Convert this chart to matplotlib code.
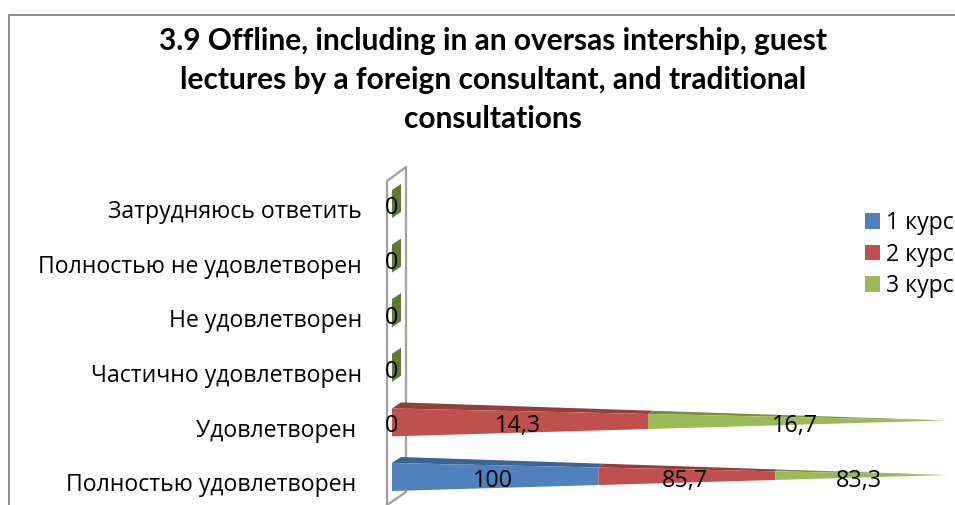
import matplotlib
matplotlib.use("Agg")
import matplotlib.pyplot as plt
from matplotlib.patches import Polygon, Patch
from matplotlib.lines import Line2D
from matplotlib.transforms import ScaledTranslation

plt.rcParams['font.family'] = ['Open Sans', 'DejaVu Sans']

title = ("3.9 Offline, including in an oversas intership, guest\n"
         "lectures by a foreign consultant, and traditional\n"
         "consultations")
categories = ["Полностью удовлетворен ", "Удовлетворен ", "Частично удовлетворен",
              "Не удовлетворен", "Полностью не удовлетворен", "Затрудняюсь ответить"]
series_names = ["1 курс", "2 курс", "3 курс"]
course1 = [100, 0, 0, 0, 0, 0]
course2 = [85.7, 14.3, 0, 0, 0, 0]
course3 = [83.3, 16.7, 0, 0, 0, 0]
face_colors = ["#4f81bd", "#c0504d", "#9bbb59"]
top_colors = ["#3c6496", "#943d3b", "#77913f"]
side_color = "#5f7a30"

W, H = 955, 505
fig = plt.figure(figsize=(W / 100, H / 100), dpi=100, facecolor="white")

def fx(x): return x / W
def fy(y): return 1 - y / H

row_px = 54.6
x0_px, x1_px = 392, 947
y_bot_px, y_top_px = 477 + row_px * 0.5, 477 - row_px * 5.5
ax = fig.add_axes([fx(x0_px), fy(y_bot_px), (x1_px - x0_px) / W, (y_bot_px - y_top_px) / H])
ax.set_xlim(0, 100)
ax.set_ylim(-0.5, 5.5)
ax.patch.set_alpha(0)
for s in ax.spines.values():
    s.set_visible(False)
ax.set_xticks([])

half = 0.256
tip = 0.036
back_x, back_y = 1.62, 0.11

def front(i, x):
    t = x / 100
    return (i + half + (tip - half) * t, i - half + (tip + half) * t)

def back(i, x):
    t = x / 100
    return x + back_x * (1 - t), i + half + back_y + (tip - half - back_y) * t

LABEL_SIZE = 16.8
for i in range(len(categories)):
    vals = [course1[i], course2[i], course3[i]]
    total = sum(vals)
    if total == 0:
        up0, lo0 = front(i, 0)
        bx, by = back(i, 0)
        ax.add_patch(Polygon([(0, up0), (bx, by), (bx, lo0 + back_y), (0, lo0)],
                             closed=True, fc=side_color, ec="none", zorder=3))
        ax.text(0, i - 0.08, "0", ha="center", va="center", fontsize=LABEL_SIZE, color="black", zorder=6)
        continue
    start = 0
    for k, v in enumerate(vals):
        if v == 0:
            continue
        end = start + v / total * 100
        u0, l0 = front(i, start)
        u1, l1 = front(i, end)
        b0, b1 = back(i, start), back(i, end)
        ax.add_patch(Polygon([(start, u0), b0, b1, (end, u1)], closed=True,
                             fc=top_colors[k], ec="none", zorder=3))
        ax.add_patch(Polygon([(start, u0), (end, u1), (end, l1), (start, l0)], closed=True,
                             fc=face_colors[k], ec="none", zorder=4))
        ax.text((start + end) / 2 - 0.4, i - 0.07, f"{v:g}".replace(".", ","), ha="center",
                va="center", fontsize=LABEL_SIZE, color="black", zorder=6)
        start = end
    if vals[0] == 0:
        ax.text(0, i - 0.07, "0", ha="center", va="center", fontsize=LABEL_SIZE, color="black", zorder=6)

ax.set_yticks(range(len(categories)))
ax.set_yticklabels(categories, fontsize=16.55)
ax.tick_params(axis="y", length=0, pad=21.5)
shift = ScaledTranslation(0, -5.2 / 100, fig.dpi_scale_trans)
for lab in ax.get_yticklabels():
    lab.set_transform(lab.get_transform() + shift)

gray = "#a0a0a0"
frame = [(9, 510), (9, 15), (960, 15)]
fig.add_artist(Line2D([fx(p[0]) for p in frame], [fy(p[1]) for p in frame],
                      color="#8c8c8c", lw=1.4))
wall = [(387, 510), (387, 181), (406, 167), (406, 492), (387, 505)]
fig.add_artist(Line2D([fx(p[0]) for p in wall], [fy(p[1]) for p in wall], color=gray, lw=1.6, zorder=-1))

fig.text(fx(493), fy(80), title, ha="center", va="center", fontsize=21.5, fontweight="bold",
         family=["Lato", "Open Sans"], linespacing=1.47, color="black")

handles = [Patch(fc=c, ec="none") for c in face_colors]
leg = fig.legend(handles, series_names, loc="upper left", bbox_to_anchor=(fx(865), fy(211)),
                 frameon=False, fontsize=16.55, handlelength=0.65, handleheight=0.65,
                 handletextpad=0.28, labelspacing=0.33, borderpad=0, borderaxespad=0)

fig.savefig("out.png", dpi=100)
